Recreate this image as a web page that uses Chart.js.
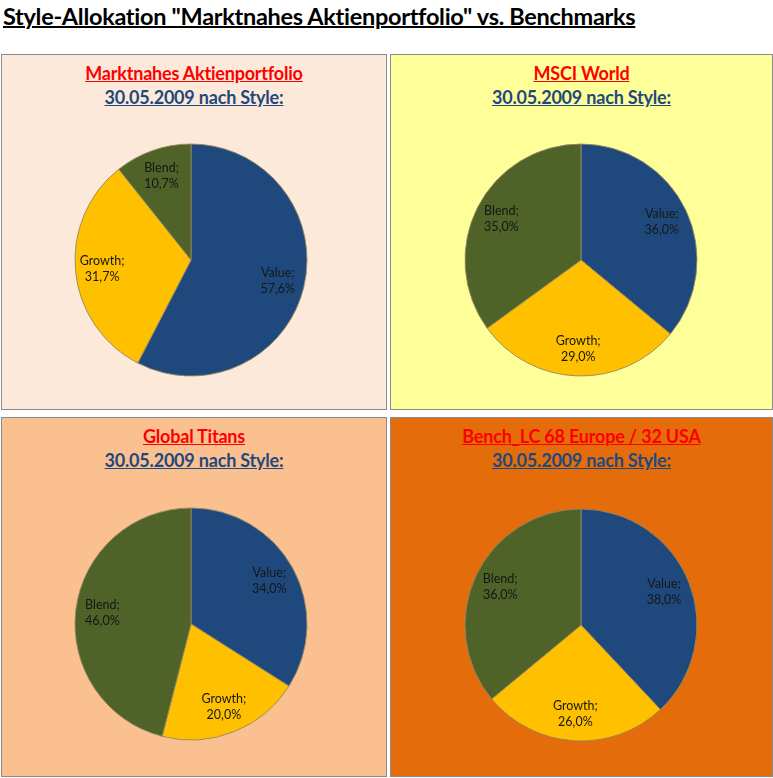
<!DOCTYPE html>
<html><head><meta charset="utf-8">
<script src="https://cdn.jsdelivr.net/npm/chart.js@4.4.0/dist/chart.umd.min.js"></script>
<style>
html,body{margin:0;padding:0;background:#fff;width:773px;height:778px;overflow:hidden;font-family:Lato,"Noto Sans",sans-serif;}
#main{position:absolute;left:3px;top:2px;font-size:23.5px;font-weight:bold;text-decoration:underline;text-decoration-thickness:2px;color:#000;white-space:nowrap;letter-spacing:-0.3px;}
.panel{position:absolute;border:1px solid #8a8a8a;box-sizing:border-box;}
.t1,.t2{position:absolute;left:0;right:0;text-align:center;font-weight:bold;font-size:18px;text-decoration:underline;white-space:nowrap;letter-spacing:-0.2px;}
.t1{color:#ff0000;top:7px;}
.t2{color:#1f497d;top:31px;}
canvas{position:absolute;}
</style></head><body>
<div id="main">Style-Allokation "Marktnahes Aktienportfolio" vs. Benchmarks</div>
<div id="root"></div>
<script>
const categories = ["Value", "Growth", "Blend"];
const chartNames = ["Marktnahes Aktienportfolio", "MSCI World", "Global Titans", "Bench_LC 68 Europe / 32 USA"];
const subTitle = "30.05.2009 nach Style:";
const valuesPortfolio = [57.6, 31.7, 10.7];
const valuesMSCI = [36.0, 29.0, 35.0];
const valuesTitans = [34.0, 20.0, 46.0];
const valuesBench = [38.0, 26.0, 36.0];
const seriesList = [valuesPortfolio, valuesMSCI, valuesTitans, valuesBench];

const sliceColors = ["#1f497d", "#ffc000", "#4f6228"];
const panelBg = ["#fde9d9", "#ffff99", "#fac090", "#e46c0a"];
const panelBoxes = [[1,54,386,356],[390,54,383,356],[1,417,386,360],[390,417,383,360]];
const pieCenters = [[191,260],[581,260],[191,624],[581,625]];
const R = 116;

const labelPlugin = {
  id: 'sliceLabels',
  afterDatasetsDraw(chart) {
    const ctx = chart.ctx;
    const meta = chart.getDatasetMeta(0);
    const data = chart.data.datasets[0].data;
    ctx.save();
    ctx.font = '12.5px Lato, "Noto Sans", sans-serif';
    ctx.fillStyle = '#161616';
    ctx.textAlign = 'center';
    ctx.textBaseline = 'middle';
    meta.data.forEach((arc, i) => {
      const p = arc.getProps(['x','y','startAngle','endAngle','outerRadius'], true);
      const mid = (p.startAngle + p.endAngle) / 2;
      const d = p.outerRadius * 0.77;
      const x = p.x + Math.cos(mid) * d;
      const y = p.y + Math.sin(mid) * d;
      ctx.fillText(chart.data.labels[i] + ';', x, y - 8);
      ctx.fillText(data[i].toFixed(1).replace('.', ',') + '%', x, y + 8);
    });
    ctx.restore();
  }
};

const root = document.getElementById('root');
seriesList.forEach((vals, k) => {
  const [px, py, pw, ph] = panelBoxes[k];
  const panel = document.createElement('div');
  panel.className = 'panel';
  Object.assign(panel.style, {left: px+'px', top: py+'px', width: pw+'px', height: ph+'px', background: panelBg[k]});
  const t1 = document.createElement('div'); t1.className = 't1'; t1.textContent = chartNames[k];
  const t2 = document.createElement('div'); t2.className = 't2'; t2.textContent = subTitle;
  panel.appendChild(t1); panel.appendChild(t2);
  root.appendChild(panel);
  const size = 2 * R + 8;
  const cv = document.createElement('canvas');
  const [cx, cy] = pieCenters[k];
  Object.assign(cv.style, {left: (cx - size/2) + 'px', top: (cy - size/2) + 'px', width: size+'px', height: size+'px'});
  cv.width = size; cv.height = size;
  document.body.appendChild(cv);
  new Chart(cv, {
    type: 'pie',
    data: {
      labels: categories,
      datasets: [{
        data: vals,
        backgroundColor: sliceColors,
        borderColor: 'rgba(150,135,95,0.9)',
        borderWidth: 1,
        hoverOffset: 0
      }]
    },
    options: {
      responsive: false,
      animation: false,
      radius: R,
      layout: {padding: 0},
      plugins: {legend: {display: false}, tooltip: {enabled: false}, title: {display: false}}
    },
    plugins: [labelPlugin]
  });
});
</script>
</body></html>
